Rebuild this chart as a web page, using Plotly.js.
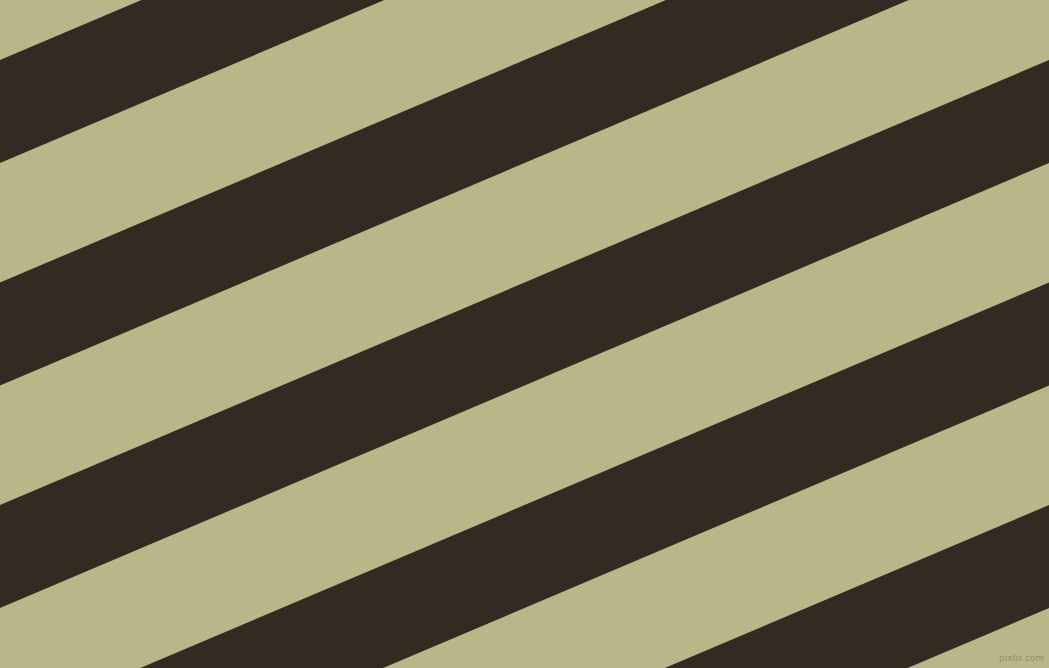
<!DOCTYPE html>
<html>
<head>
<meta charset="utf-8">
<script src="https://cdn.plot.ly/plotly-3.0.1.min.js"></script>
<style>
  html, body { margin: 0; padding: 0; background: #bab68a; }
  #chart { width: 1049px; height: 668px; }
</style>
</head>
<body>
<div id="chart"></div>
<script>
// dark stripe edges, read as the y value where each edge meets the left border
const stripeTop = [60, 282.5, 505, 727.5, 950];
const stripeBottom = [163, 385.5, 608, 830.5, 1053];
// how far an edge climbs per pixel moving right (about 23 degrees)
const rise = 0.4242;

const W = 1049, H = 668;

const traces = stripeTop.map((top, i) => {
    const bottom = stripeBottom[i];
    return {
        type: "scatter",
        mode: "lines",
        x: [0, W, W, 0, 0],
        y: [top, top - rise * W, bottom - rise * W, bottom, top],
        fill: "toself",
        fillcolor: "#332a21",
        line: {width: 0, color: "#332a21"},
        hoverinfo: "skip",
        showlegend: false
    };
});

const layout = {
    width: W,
    height: H,
    margin: {t: 0, b: 0, l: 0, r: 0},
    paper_bgcolor: "#bab68a",
    plot_bgcolor: "#bab68a",
    xaxis: {range: [0, W], visible: false, fixedrange: true},
    yaxis: {range: [H, 0], visible: false, fixedrange: true},
    annotations: [{
        text: "pixlis.com",
        xref: "paper", yref: "paper",
        x: 0.997, y: 0.004,
        xanchor: "right", yanchor: "bottom",
        showarrow: false,
        font: {family: "DejaVu Sans", size: 9, color: "#8f8c6c"}
    }]
};

Plotly.newPlot("chart", traces, layout, {displayModeBar: false, staticPlot: true});
</script>
</body>
</html>
